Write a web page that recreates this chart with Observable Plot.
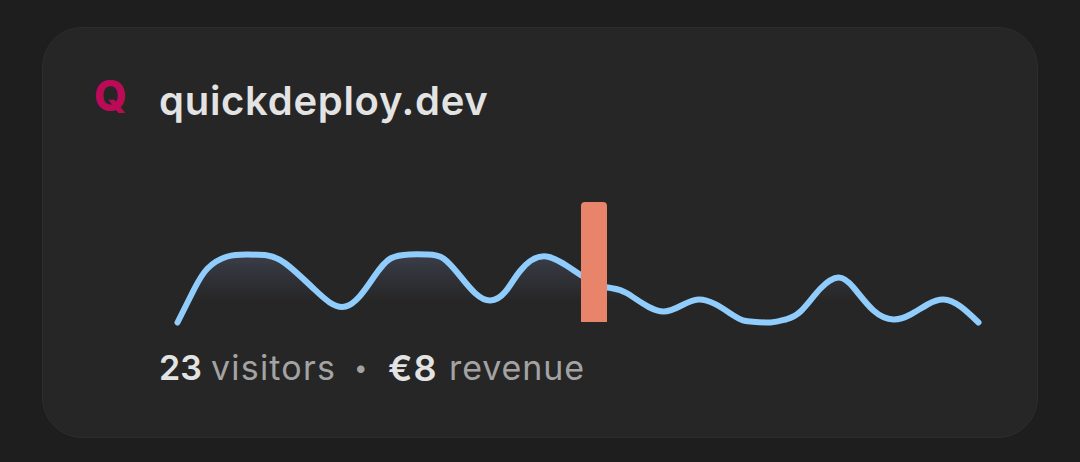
<!DOCTYPE html>
<html>
<head>
<meta charset="utf-8">
<script src="https://cdn.jsdelivr.net/npm/d3@7"></script>
<script src="https://cdn.jsdelivr.net/npm/@observablehq/plot@0.6"></script>
<style>
html,body{margin:0;padding:0;width:1080px;height:462px;overflow:hidden;background:#1e1e1e;font-family:Inter,"Noto Sans",sans-serif}
#card{position:absolute;left:42px;top:27px;width:994px;height:409px;background:#262626;border:1px solid #2d2d2d;border-radius:40px}
#chart{position:absolute;left:0;top:0}
#chart svg{display:block;background:transparent}
.t{position:absolute;white-space:nowrap}
#logo{left:94px;top:71px;font-size:42px;line-height:50px;font-weight:800;color:#bb0a56}
#title{left:159px;top:76px;font-size:40px;line-height:50px;font-weight:600;color:#e3e3e3;letter-spacing:0.72px}
.stat{top:346px;font-size:34px;line-height:44px;letter-spacing:0.9px}
.stat b{font-weight:600;color:#e3e3e3;letter-spacing:0}
.stat span{color:#a3a3a3;font-weight:400}
</style>
</head>
<body>
<div id="card"></div>
<div id="chart"></div>
<div class="t" id="logo">Q</div>
<div class="t" id="title">quickdeploy.dev</div>
<div class="t stat" style="left:159px"><b>23</b></div>
<div class="t stat" style="left:211px;letter-spacing:1.2px"><span>visitors</span></div>
<div class="t stat" style="left:354px;font-size:24px"><span>•</span></div>
<div class="t stat" style="left:388px;font-size:36px"><b style="letter-spacing:1px">€8</b></div>
<div class="t stat" style="left:449px"><span>revenue</span></div>
<script>
const times = [0,16,30,50,70,90,108,136,168,196,213,232,250,266,283,298,313,328,343,369,404,430,450,486,521,556,573,593,608,623,643,661,676,696,716,733,750,766,783,801];
const visits = [0,32,54,66,68,67,59,34,16,45,64,68,68,64,46,29,22,31,52,66,47,35,29,11,23,7,1,0,3,11,34,45,35,12,3,8,18,23,16,0];
const barTime = [404,430];
const barValue = 120;
const rows = times.map((t,i)=>({t,v:visits[i]}));
const chart = Plot.plot({
  width:1080,height:462,margin:0,
  style:{background:"transparent",overflow:"visible"},
  x:{domain:[0,801],range:[177,978],axis:null},
  y:{domain:[0,120],range:[322,202],axis:null},
  marks:[
    () => {
      const s = d3.create("svg:defs");
      const g = s.append("linearGradient").attr("id","fade").attr("x1",0).attr("x2",0).attr("y1",0).attr("y2",1);
      g.append("stop").attr("offset","0%").attr("stop-color","#3b3e4a").attr("stop-opacity",1);
      g.append("stop").attr("offset","70%").attr("stop-color","#3b3e4a").attr("stop-opacity",0);
      return s.node();
    },
    Plot.areaY(rows,{x:"t",y:"v",curve:"natural",fill:"url(#fade)"}),
    Plot.lineY(rows,{x:"t",y:"v",curve:"natural",stroke:"#90cdfc",strokeWidth:6,strokeLinecap:"round",strokeLinejoin:"round"}),
    Plot.rect([0],{x1:barTime[0],x2:barTime[1],y1:0,y2:barValue,fill:"#e8846a",ry2:4})
  ]
});
document.getElementById("chart").append(chart);
</script>
</body>
</html>
